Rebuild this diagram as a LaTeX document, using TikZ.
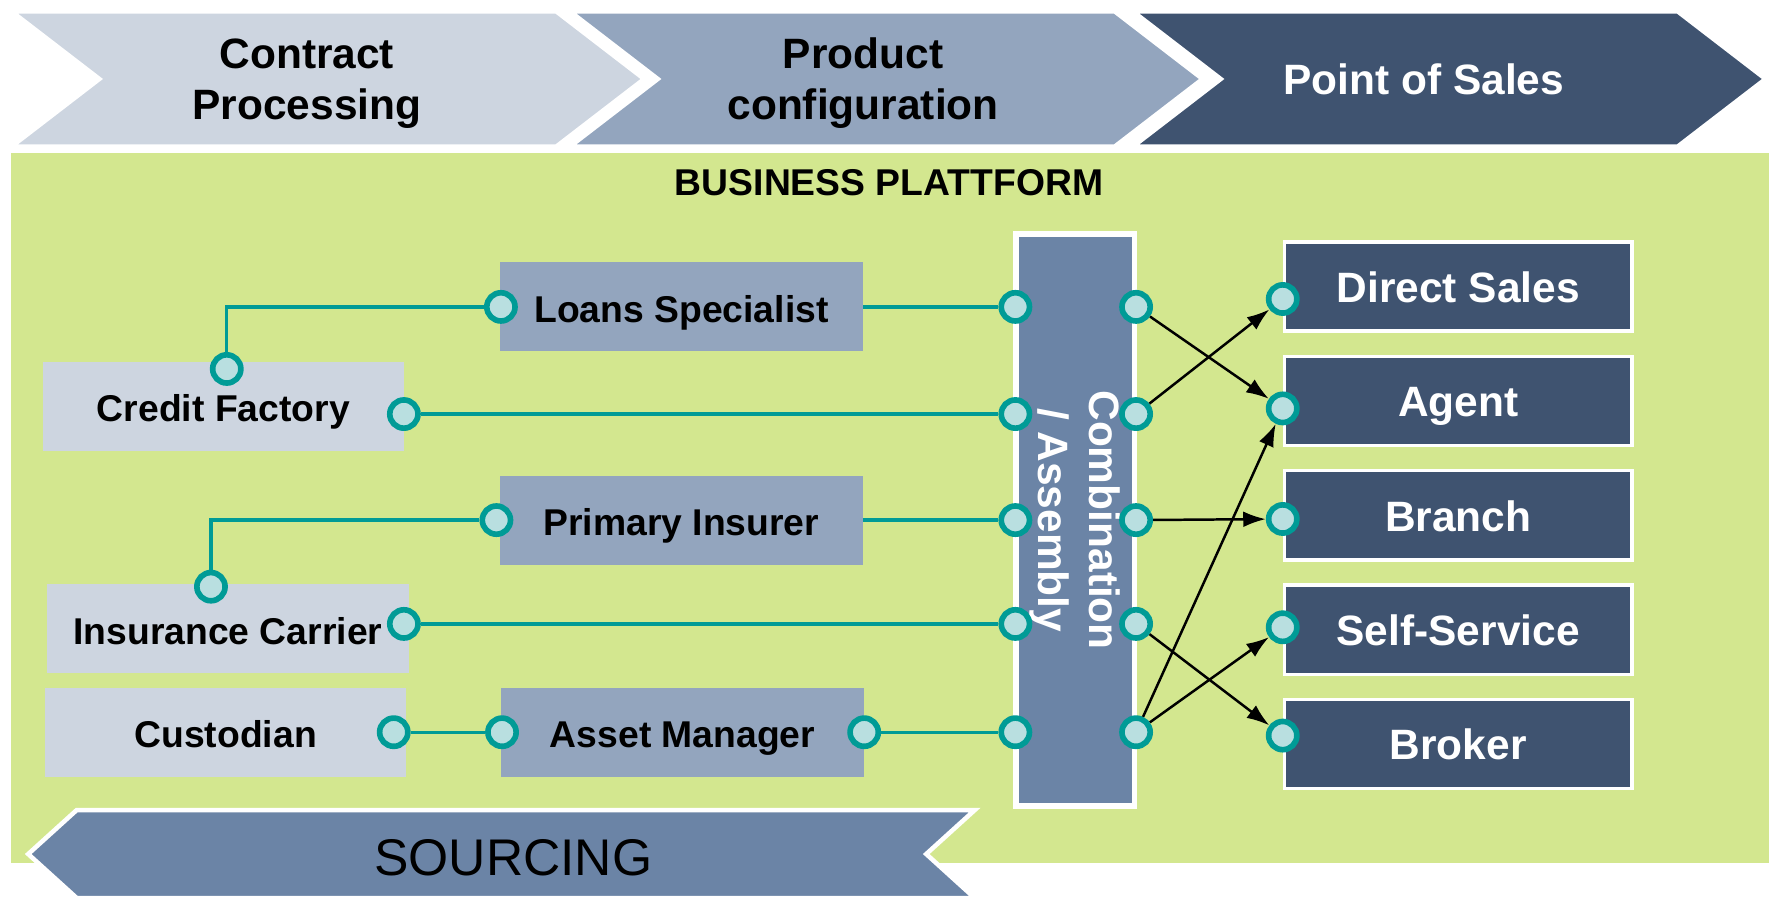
\documentclass[tikz,border=0pt]{standalone}
\usepackage{fontspec}
\setmainfont{Liberation Sans}
\usepackage{xcolor}
\usepackage{tikz}
\usetikzlibrary{arrows.meta, positioning}
\definecolor{chevlight}{RGB}{205,213,224}
\definecolor{chevmid}{RGB}{147,165,190}
\definecolor{chevdark}{RGB}{63,83,112}
\definecolor{platgreen}{RGB}{211,231,143}
\definecolor{combblue}{RGB}{107,132,166}
\definecolor{portteal}{RGB}{0,155,150}
\definecolor{portfill}{RGB}{185,223,224}
\newcommand{\chevfont}{\bfseries\fontsize{10.7pt}{12.8pt}\selectfont}
\newcommand{\boxlabelfont}{\bfseries\fontsize{9.4pt}{11pt}\selectfont}
\newcommand{\sourcefont}{\fontsize{13pt}{15pt}\selectfont}

\begin{document}
\begin{tikzpicture}[x=0.01cm, y=-0.01cm,
    chevron/.style={draw=white, line width=0.04cm},
    lightbox/.style={fill=chevlight, minimum width=3.2cm, minimum height=0.79cm, inner sep=0pt, text height=1.5ex, text depth=0pt, font=\boxlabelfont},
    midbox/.style={fill=chevmid, minimum width=3.21cm, minimum height=0.79cm, inner sep=0pt, text height=1.5ex, text depth=0pt, font=\boxlabelfont},
    salesbox/.style={fill=chevdark, draw=white, line width=0.03cm, minimum width=3.08cm, minimum height=0.79cm, inner sep=0pt, text height=1.5ex, text depth=0pt, text=white, font=\chevfont},
    port/.style={circle, draw=portteal, fill=portfill, line width=0.05cm, minimum size=0.25cm, inner sep=0pt},
    link/.style={portteal, line width=0.03cm},
    route/.style={-{Latex[length=0.2cm, width=0.14cm]}, line width=0.022cm, black}]
    \useasboundingbox (0,0) rectangle (1568,796);

    % Process chevrons
    \foreach \lx/\col in {10/chevlight, 505/chevmid, 1004/chevdark} {
        \filldraw[chevron, fill=\col] (\lx,10) -- ++(483,0) -- ++(78,60) -- ++(-78,60) -- ++(-483,0) -- ++(78,-60) -- cycle;
    }
    \node[font=\chevfont, align=center] (contract) at (272,74) {Contract\\Processing};
    \node[font=\chevfont, align=center] (config) at (765,74) {Product\\configuration};
    \node[font=\chevfont, text=white] (pos) at (1262,70) {Point of Sales};

    % Business platform
    \fill[platgreen] (10,136) rectangle (1568,765);
    \node[font=\boxlabelfont] (platform) at (788,162) {BUSINESS PLATTFORM};

    % Sourcing boxes
    \node[lightbox] (credit) at (198,360) {Credit Factory};
    \node[lightbox] (carrier) at (202,557) {Insurance Carrier};
    \node[lightbox] (custodian) at (200,649) {Custodian};
    \node[midbox] (loans) at (604,272) {Loans Specialist};
    \node[midbox] (insurer) at (604,461) {Primary Insurer};
    \node[midbox] (asset) at (605,649) {Asset Manager};

    % Combination / assembly
    \node[fill=combblue, draw=white, line width=0.05cm, minimum width=5.07cm, minimum height=1.05cm,
          rotate=-90, text=white, font=\chevfont, align=center] (combo) at (953,461) {Combination\\/ Assembly};

    % Sales channels
    \foreach \nm/\txt/\yy in {direct/Direct Sales/254, agent/Agent/355.4, branch/Branch/456.8, self/Self-Service/558.2, broker/Broker/659.6} {
        \node[salesbox] (\nm) at (1292.5,\yy) {\txt};
    }

    % Ports
    \foreach \i/\yy in {1/272, 2/367, 3/461, 4/553, 5/649} {
        \node[port] (in\i) at (900,\yy) {};
        \node[port] (out\i) at (1007,\yy) {};
    }
    \foreach \nm/\yy in {direct/265, agent/362, branch/460, self/556, broker/652} {
        \node[port] (\nm P) at (1137,\yy) {};
    }
    \node[port] (loansW) at (444,272) {};
    \node[port] (creditN) at (201,327) {};
    \node[port] (creditE) at (358,367) {};
    \node[port] (insurerW) at (440,461) {};
    \node[port] (carrierN) at (187,520) {};
    \node[port] (carrierE) at (358,553) {};
    \node[port] (custodianE) at (349,649) {};
    \node[port] (assetW) at (445,649) {};
    \node[port] (assetE) at (766,649) {};

    % Links to the assembly
    \draw[link] (loansW) -| (creditN);
    \draw[link] (insurerW) -| (carrierN);
    \draw[link] (loans.east) -- (in1);
    \draw[link] (creditE) -- (in2);
    \draw[link] (insurer.east) -- (in3);
    \draw[link] (carrierE) -- (in4);
    \draw[link] (custodianE) -- (assetW);
    \draw[link] (assetE) -- (in5);

    % Routes to the sales channels
    \draw[route] (out1) -- (agentP);
    \draw[route] (out2) -- (directP);
    \draw[route] (out3) -- (branchP);
    \draw[route] (out4) -- (brokerP);
    \draw[route] (out5) -- (agentP);
    \draw[route] (out5) -- (selfP);

    % Sourcing arrow
    \filldraw[chevron, fill=combblue] (68,718) -- (864,718) -- (821,757) -- (864,796) -- (68,796) -- (25,757) -- cycle;
    \node[font=\sourcefont] (sourcing) at (455,760) {SOURCING};
\end{tikzpicture}
\end{document}
